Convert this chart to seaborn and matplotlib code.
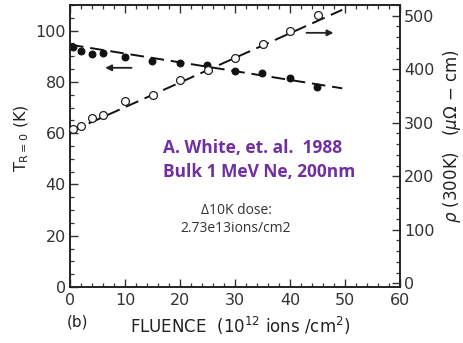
import matplotlib
matplotlib.use("Agg")
import matplotlib.pyplot as plt
from matplotlib.ticker import MultipleLocator
import seaborn as sns

# ---- data ----
fluence_T = [0.5, 2, 4, 6, 10, 15, 20, 25, 30, 35, 40, 45]
T_R0 = [93.7, 92.2, 91.0, 91.4, 89.8, 88.2, 87.5, 86.7, 84.3, 83.5, 81.6, 78.0]
fluence_rho = [0.5, 2, 4, 6, 10, 15, 20, 25, 30, 35, 40, 45]
rho_300K = [289, 294, 309, 315, 340, 351, 379, 398, 421, 447, 472, 502]
fit_fluence = [0, 49.5]
fit_T = [94.5, 77.5]
fit_rho = [283, 511]
x_ticks = [0, 10, 20, 30, 40, 50, 60]
left_ticks = [0, 20, 40, 60, 80, 100]
right_ticks = [0, 100, 200, 300, 400, 500]

sns.set_theme(style="ticks")
plt.rcParams['font.family'] = ['DejaVu Sans']

W, H = 464, 343
fig = plt.figure(figsize=(W / 100, H / 100), dpi=100)
ax = fig.add_axes([70 / W, 1 - 287 / H, 330 / W, 282 / H])
ax2 = ax.twinx()

dash = (0, (7, 3.5))
sns.lineplot(x=fit_fluence, y=fit_T, ax=ax, color='#111111', lw=1.4, linestyle=dash)
sns.lineplot(x=fit_fluence, y=fit_rho, ax=ax2, color='#111111', lw=1.4, linestyle=dash)
sns.scatterplot(x=fluence_T, y=T_R0, ax=ax, color='#111111', s=24, edgecolor='#111111',
                linewidth=0.8, zorder=5)
sns.scatterplot(x=fluence_rho, y=rho_300K, ax=ax2, facecolor='white', s=32,
                edgecolor='#222222', linewidth=0.9, zorder=5)

ax.set_xlim(0, 60)
ax.set_ylim(0, 110)
ax2.set_ylim(-7, 520)
ax.set_xticks(x_ticks)
ax.set_yticks(left_ticks)
ax2.set_yticks(right_ticks)
ax.xaxis.set_minor_locator(MultipleLocator(2))
ax.yaxis.set_minor_locator(MultipleLocator(5))
ax2.yaxis.set_minor_locator(MultipleLocator(20))

tc = '#333333'
ax.tick_params(axis='x', which='both', direction='in', top=True, bottom=True,
               labelsize=11.5, colors=tc, pad=4)
ax.tick_params(axis='y', which='both', direction='in', left=True, right=False,
               labelsize=11.5, colors=tc, pad=3)
ax2.tick_params(axis='y', which='both', direction='in', right=True, left=False,
                labelsize=11.5, colors=tc, pad=3)
for a in (ax, ax2):
    a.tick_params(which='major', length=6, width=1.0)
    a.tick_params(which='minor', length=3, width=0.9)
    for s in a.spines.values():
        s.set_color('#222222')
        s.set_linewidth(1.2)
        s.set_visible(True)

ax.set_xlabel('')
ax.set_ylabel('')
ax2.set_ylabel('')

# arrows
ax.annotate('', xy=(6.4, 85.5), xytext=(11.2, 85.5),
            arrowprops=dict(arrowstyle='-|>', color='#222222', lw=1.3,
                            mutation_scale=9, shrinkA=0, shrinkB=0))
ax2.annotate('', xy=(47.9, 468), xytext=(43.0, 468),
             arrowprops=dict(arrowstyle='-|>', color='#222222', lw=1.3,
                             mutation_scale=9, shrinkA=0, shrinkB=0))

# axis labels
fig.text(22 / W, 1 - 138 / H, r'T$_{\mathregular{R=0}}$ (K)', rotation=90,
         ha='center', va='center', fontsize=11.5, color='#222222')
fig.text(452 / W, 1 - 136 / H, r'$\rho$ (300K)   ($\mu\Omega$ $-$ cm)', rotation=90,
         ha='center', va='center', fontsize=12, color='#222222')
fig.text(240 / W, 1 - 326 / H, r'FLUENCE  (10$^{12}$ ions /cm$^2$)',
         ha='center', va='center', fontsize=12, color='#222222')
fig.text(78 / W, 1 - 322 / H, '(b)', ha='center', va='center', fontsize=11,
         color='#222222')

# annotations
purple = '#7030A0'
fig.text(163 / W, 1 - 148 / H, 'A. White, et. al.  1988', ha='left', va='center',
         fontsize=12.5, fontweight='bold', color=purple, family=['Open Sans', 'DejaVu Sans'])
fig.text(163 / W, 1 - 172 / H, 'Bulk 1 MeV Ne, 200nm', ha='left', va='center',
         fontsize=12.5, fontweight='bold', color=purple, family=['Open Sans', 'DejaVu Sans'])
fig.text(236 / W, 1 - 211 / H, 'Δ10K dose:', ha='center', va='center',
         fontsize=10, color='#333333', family=['Open Sans', 'DejaVu Sans'])
fig.text(236 / W, 1 - 228 / H, '2.73e13ions/cm2', ha='center', va='center',
         fontsize=10, color='#333333', family=['Open Sans', 'DejaVu Sans'])

fig.savefig('out.png', dpi=100)
